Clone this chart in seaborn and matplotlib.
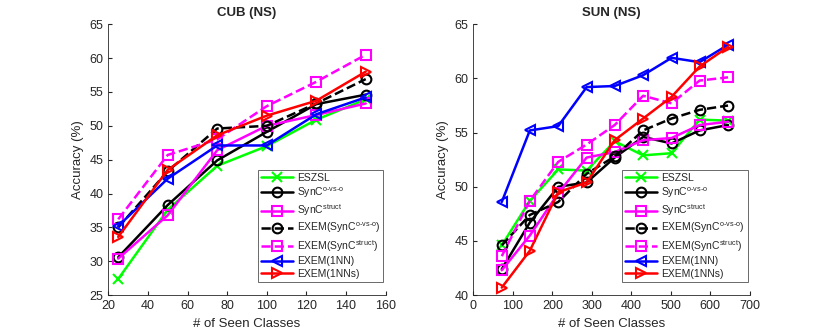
"""
Accuracy vs number of seen classes on CUB and SUN (NS)
"""

import matplotlib
matplotlib.use("Agg")
import matplotlib.pyplot as plt
import seaborn as sns

# ============ DATA ============
CUB_X = [25, 50, 75, 100, 125, 150]
SUN_X = [72, 143, 215, 287, 358, 430, 502, 573, 645]

METHODS = ["ESZSL", "SynC o-vs-o", "SynC struct", "EXEM(SynC o-vs-o)",
           "EXEM(SynC struct)", "EXEM(1NN)", "EXEM(1NNs)"]

cub_eszsl = [27.4, 37.6, 44.1, 47.0, 50.9, 53.9]
cub_sync_ovo = [30.6, 38.3, 44.9, 49.1, 53.2, 54.6]
cub_sync_struct = [30.4, 36.8, 46.4, 50.0, 51.6, 53.3]
cub_exem_ovo = [35.0, 43.3, 49.6, 50.0, 53.3, 56.9]
cub_exem_struct = [36.2, 45.7, 48.0, 52.9, 56.5, 60.5]
cub_exem_1nn = [35.2, 42.2, 47.1, 47.1, 51.7, 54.2]
cub_exem_1nns = [33.6, 43.5, 48.6, 51.5, 53.7, 58.0]

sun_eszsl = [44.6, 48.7, 51.6, 51.5, 54.2, 52.9, 53.1, 56.2, 56.1]
sun_sync_ovo = [42.4, 46.7, 50.0, 50.4, 52.7, 54.6, 54.0, 55.2, 55.7]
sun_sync_struct = [42.3, 45.5, 49.4, 52.7, 53.2, 54.3, 54.5, 55.7, 56.0]
sun_exem_ovo = [44.6, 47.4, 48.6, 51.2, 52.8, 55.2, 56.3, 57.1, 57.5]
sun_exem_struct = [43.6, 48.7, 52.3, 53.9, 55.7, 58.4, 57.7, 59.8, 60.1]
sun_exem_1nn = [48.6, 55.2, 55.6, 59.2, 59.3, 60.3, 61.9, 61.5, 63.1]
sun_exem_1nns = [40.7, 44.1, 49.5, 50.4, 54.3, 56.3, 58.3, 61.1, 62.9]

# ============ STYLE ============
LABELS = [
    "ESZSL",
    r"SynC$^{\mathrm{o\text{-}vs\text{-}o}}$",
    r"SynC$^{\mathrm{struct}}$",
    r"EXEM(SynC$^{\mathrm{o\text{-}vs\text{-}o}}$)",
    r"EXEM(SynC$^{\mathrm{struct}}$)",
    "EXEM(1NN)",
    "EXEM(1NNs)",
]
STYLES = [
    dict(color="#00ff00", marker="x", linestyle="-"),
    dict(color="black", marker="o", linestyle="-"),
    dict(color="#ff00ff", marker="s", linestyle="-"),
    dict(color="black", marker="o", linestyle="--"),
    dict(color="#ff00ff", marker="s", linestyle="--"),
    dict(color="#0000ff", marker="<", linestyle="-"),
    dict(color="#ff0000", marker=">", linestyle="-"),
]

sns.set_style("white")
plt.rcParams["font.family"] = ["Liberation Sans", "DejaVu Sans"]
plt.rcParams["mathtext.fontset"] = "custom"
plt.rcParams["mathtext.rm"] = "Liberation Sans"
plt.rcParams["mathtext.it"] = "Liberation Sans:italic"


def draw_panel(ax, x, series, title, xlim, xticks, ylim, yticks):
    for vals, label, st in zip(series, LABELS, STYLES):
        sns.lineplot(x=x, y=vals, ax=ax, label=label, color=st["color"],
                     marker=st["marker"], linestyle=st["linestyle"],
                     linewidth=1.8, markersize=7, markerfacecolor="none",
                     markeredgecolor=st["color"], markeredgewidth=1.5)
    ax.set_xlim(*xlim)
    ax.set_ylim(*ylim)
    ax.set_xticks(xticks)
    ax.set_yticks(yticks)
    ax.set_title(title, fontsize=9.5, fontweight="bold", pad=6)
    ax.set_xlabel("# of Seen Classes", fontsize=9.5, color="#262626")
    ax.set_ylabel("Accuracy (%)", fontsize=9.5, color="#262626")
    ax.tick_params(direction="in", length=3, labelsize=9, colors="#262626",
                   bottom=True, left=True)
    for side in ["top", "right"]:
        ax.spines[side].set_visible(False)
    for side in ["left", "bottom"]:
        ax.spines[side].set_color("#262626")
        ax.spines[side].set_linewidth(0.6)
    leg = ax.legend(loc="lower right", bbox_to_anchor=(1.0, 0.04), fontsize=7.5,
                    frameon=True, fancybox=False, handlelength=3,
                    borderpad=0.3, labelspacing=0.25, handletextpad=0.4,
                    borderaxespad=0.2)
    leg.get_frame().set_edgecolor("#262626")
    leg.get_frame().set_linewidth(0.6)


def main():
    fig = plt.figure(figsize=(8.3, 3.32), dpi=100)
    ax1 = fig.add_axes([0.1305, 0.111, 0.334, 0.816])
    ax2 = fig.add_axes([0.5703, 0.111, 0.333, 0.816])

    draw_panel(ax1, CUB_X,
               [cub_eszsl, cub_sync_ovo, cub_sync_struct, cub_exem_ovo,
                cub_exem_struct, cub_exem_1nn, cub_exem_1nns],
               "CUB (NS)", (20, 160), range(20, 161, 20), (25, 65), range(25, 66, 5))
    draw_panel(ax2, SUN_X,
               [sun_eszsl, sun_sync_ovo, sun_sync_struct, sun_exem_ovo,
                sun_exem_struct, sun_exem_1nn, sun_exem_1nns],
               "SUN (NS)", (0, 700), range(0, 701, 100), (40, 65), range(40, 66, 5))

    fig.savefig("out.png", dpi=100)


if __name__ == "__main__":
    main()
